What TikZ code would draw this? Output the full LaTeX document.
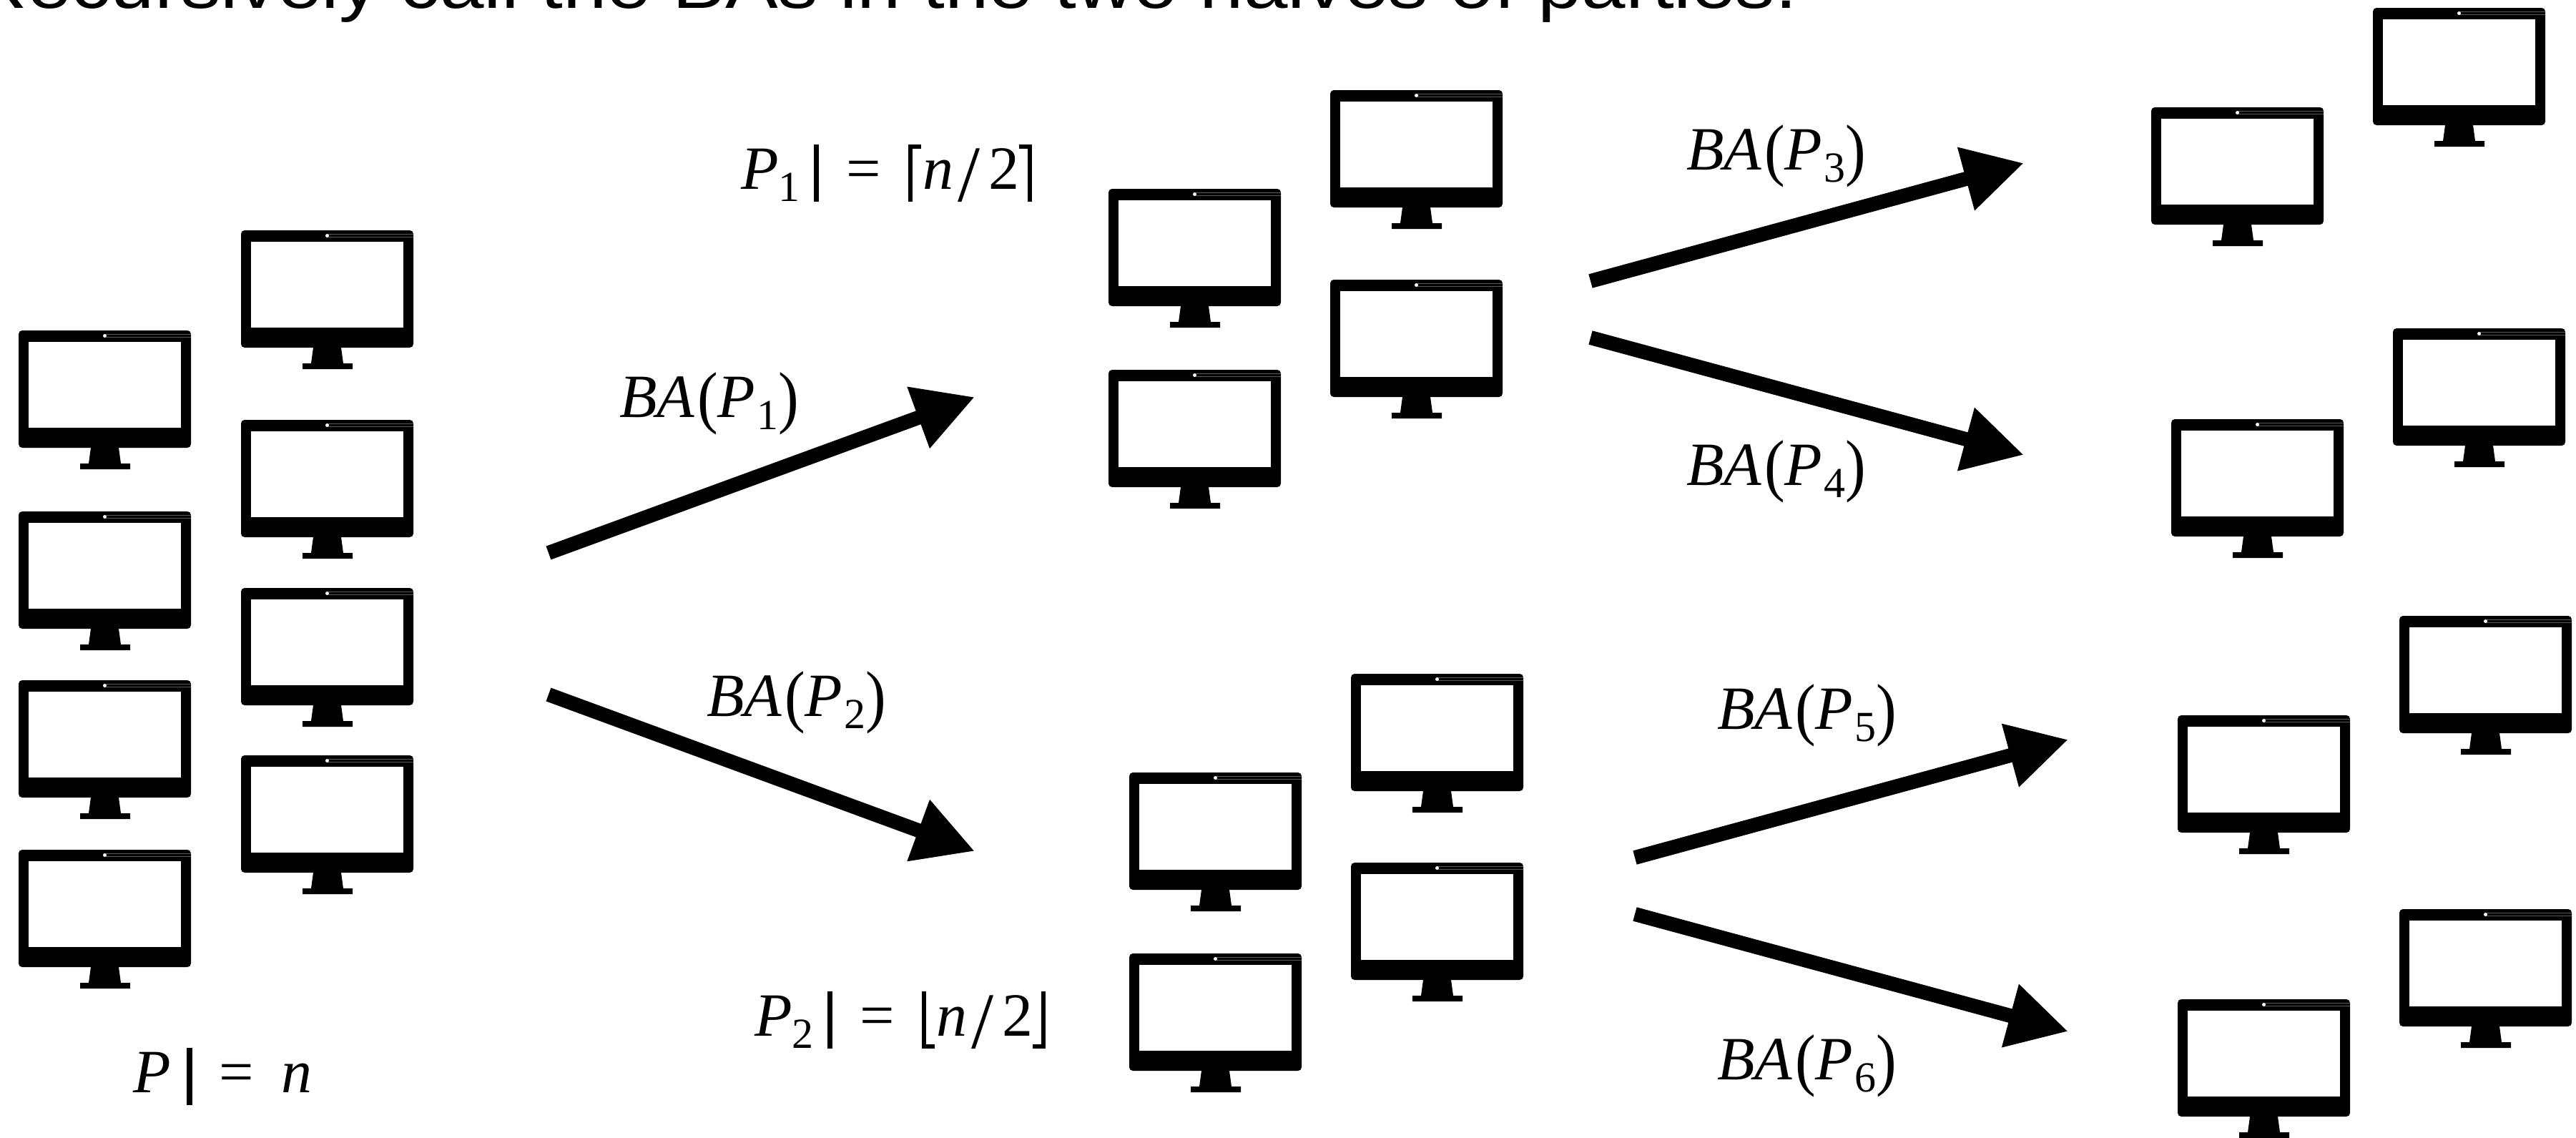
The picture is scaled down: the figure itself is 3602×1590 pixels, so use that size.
\documentclass[tikz,border=0pt]{standalone}
\usepackage{fontspec}
\usepackage{graphicx}
\setmainfont{Liberation Serif}
\newfontfamily\headfont{Liberation Sans}
\usetikzlibrary{arrows.meta}
\newcommand{\subs}[1]{\raisebox{-.2em}{\fontsize{30}{30}\selectfont #1}}
\newcommand{\barr}{\rule[-.21em]{.085em}{.93em}}
\newcommand{\bigparl}{\raisebox{-.05em}{\scalebox{1}[1.12]{(}}}
\newcommand{\bigparr}{\raisebox{-.05em}{\scalebox{1}[1.12]{)}}}
\newcommand{\bafn}[1]{\textit{BA}\hspace{.04em}\bigparl\textit{P}\hspace{.03em}\subs{#1}\bigparr}
\newcommand{\bigslash}{\hspace{.07em}\raisebox{-.2em}{\scalebox{1.3}{/}}\hspace{.13em}}
\newcommand{\mylc}{\rule[-.21em]{.07em}{.93em}\rule[.65em]{.14em}{.07em}}
\newcommand{\myrc}{\rule[.65em]{.14em}{.07em}\rule[-.21em]{.07em}{.93em}}
\newcommand{\mylf}{\rule[-.21em]{.07em}{.93em}\rule[-.21em]{.14em}{.07em}}
\newcommand{\myrf}{\rule[-.21em]{.14em}{.07em}\rule[-.21em]{.07em}{.93em}}
\newcommand{\eqgap}{\hspace{.44em}=\hspace{.45em}}
\tikzset{
  x=0.5pt,y=-0.5pt,
  lbl/.style={anchor=base west,inner sep=0pt,font=\fontsize{43}{50}\selectfont},
  headline/.style={anchor=base west,inner sep=0pt,font=\headfont\fontsize{48}{60}\selectfont},
  bigarrow/.style={line width=10pt,-{Triangle[length=42pt,width=43pt]}},
  pics/monitor/.style={code={
    \fill[black,rounded corners=2.5pt] (0,0) rectangle (241,164);
    \fill[white] (14,16) rectangle (227,136);
    \fill[black] (101,164) -- (140,164) -- (143,186) -- (156,186) -- (156,194) -- (86,194) -- (86,186) -- (98,186) -- cycle;
    \draw[black!65!white,line width=.4pt] (122,5) -- (241,5) (122,9.5) -- (241,9.5);
    \fill[white] (120.5,7.5) circle (2.5 and 2.5);
  }}
}
\begin{document}
\begin{tikzpicture}
\useasboundingbox (0,0) rectangle (3602,1590);
\fill[white] (0,0) rectangle (3602,1590);
\node[headline] (title) at (-42,11) {\scalebox{1.151}[1]{Recursively call the BAs in the two halves of parties.}};
\begin{scope}[xshift=-0.5pt]
% left group
\pic (m1) at (27,462) {monitor};
\pic (m2) at (27,715) {monitor};
\pic (m3) at (27,951) {monitor};
\pic (m4) at (27,1188) {monitor};
\pic (m5) at (338,322) {monitor};
\pic (m6) at (338,587) {monitor};
\pic (m7) at (338,822) {monitor};
\pic (m8) at (338,1056) {monitor};
% middle upper
\pic (m9) at (1551,264) {monitor};
\pic (m10) at (1861,126) {monitor};
\pic (m11) at (1861,391) {monitor};
\pic (m12) at (1551,517) {monitor};
% middle lower
\pic (m13) at (1580,1080) {monitor};
\pic (m14) at (1890,942) {monitor};
\pic (m15) at (1890,1206) {monitor};
\pic (m16) at (1580,1333) {monitor};
% right
\pic (m17) at (3009,150) {monitor};
\pic (m18) at (3319,11) {monitor};
\pic (m19) at (3037,586) {monitor};
\pic (m20) at (3347,459) {monitor};
\pic (m21) at (3046,1000) {monitor};
\pic (m22) at (3356,861) {monitor};
\pic (m23) at (3046,1397) {monitor};
\pic (m24) at (3356,1271) {monitor};
\end{scope}
% arrow ends
\coordinate (a1s) at (767,773);  \coordinate (a1e) at (1363,555);
\coordinate (a2s) at (767,971);  \coordinate (a2e) at (1363,1190);
\coordinate (a3s) at (2224,393); \coordinate (a3e) at (2830,228);
\coordinate (a4s) at (2224,472); \coordinate (a4e) at (2830,636);
\coordinate (a5s) at (2286,1199);\coordinate (a5e) at (2892,1034);
\coordinate (a6s) at (2286,1278);\coordinate (a6e) at (2892,1442);
\draw[bigarrow] (a1s) -- (a1e);
\draw[bigarrow] (a2s) -- (a2e);
\draw[bigarrow] (a3s) -- (a3e);
\draw[bigarrow] (a4s) -- (a4e);
\draw[bigarrow] (a5s) -- (a5e);
\draw[bigarrow] (a6s) -- (a6e);
% labels
\node[lbl] (l0) at (186,1527) {\textit{P}\hspace{.26em}\barr\eqgap\textit{n}};
\node[lbl] (l1) at (1036,264) {\textit{P}\subs{1}\hspace{.22em}\barr\eqgap\mylc\hspace{.03em}\textit{n}\bigslash 2\myrc};
\node[lbl] (l2) at (1055,1448) {\textit{P}\subs{2}\hspace{.22em}\barr\eqgap\mylf\hspace{.03em}\textit{n}\bigslash 2\myrf};
\node[lbl] (b1) at (866,583) {\bafn{1}};
\node[lbl] (b2) at (988,1001) {\bafn{2}};
\node[lbl] (b3) at (2358,237) {\bafn{3}};
\node[lbl] (b4) at (2358,678) {\bafn{4}};
\node[lbl] (b5) at (2401,1019) {\bafn{5}};
\node[lbl] (b6) at (2401,1509) {\bafn{6}};
\end{tikzpicture}
\end{document}
